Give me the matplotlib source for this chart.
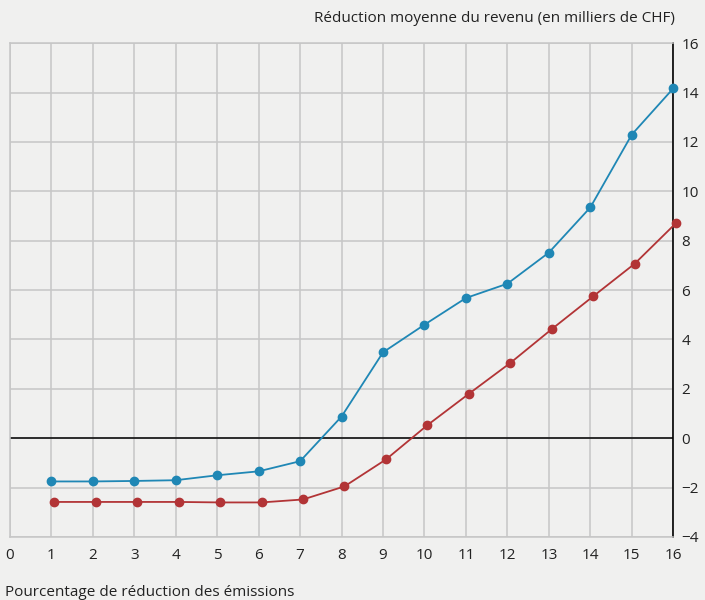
import numpy as np
import matplotlib.pyplot as plt

plt.rcParams['font.family'] = ['Open Sans', 'DejaVu Sans']

# Données
reduction = list(range(1, 17))
serie_bleue = [-1.75, -1.75, -1.73, -1.70, -1.50, -1.34, -0.93, 0.88,
               3.48, 4.60, 5.68, 6.26, 7.52, 9.35, 12.30, 14.17]
serie_rouge = [-2.58, -2.58, -2.58, -2.58, -2.60, -2.60, -2.48, -1.95,
               -0.86, 0.53, 1.80, 3.05, 4.42, 5.75, 7.07, 8.72]

bg = '#f0f0ef'
bleu = '#1f87b5'
rouge = '#b23436'

fig = plt.figure(figsize=(7.05, 6), dpi=100, facecolor=bg)
ax = fig.add_axes([0.014, 0.105, 0.941, 0.823], facecolor=bg)

ax.plot(reduction, serie_bleue, color=bleu, lw=1.3, marker='o', ms=6,
        zorder=3, clip_on=False)
x_rouge = np.array(reduction) + 0.07
ax.plot(x_rouge, serie_rouge, color=rouge, lw=1.3, marker='o', ms=6,
        zorder=3, clip_on=False)

ax.axhline(0, color='black', lw=1.1, zorder=2)

ax.set_xlim(0, 16)
ax.set_ylim(-4, 16)
ax.set_xticks(range(0, 17))
ax.set_yticks(range(-4, 17, 2))
ax.set_yticklabels([str(v).replace('-', '\u2212') for v in range(-4, 17, 2)])
ax.yaxis.tick_right()
ax.tick_params(axis='both', length=0, labelsize=11, colors='#222222')
ax.tick_params(axis='x', pad=8)
ax.tick_params(axis='y', pad=6)

ax.grid(True, color='#c6c6c6', lw=1.1, zorder=0)
for s in ['left', 'top', 'bottom']:
    ax.spines[s].set_color('#c6c6c6')
    ax.spines[s].set_linewidth(1.1)
ax.spines['right'].set_color('black')
ax.spines['right'].set_linewidth(1.2)

fig.text(0.957, 0.97, 'Réduction moyenne du revenu (en milliers de CHF)',
         ha='right', va='center', fontsize=11, color='#222222')
fig.text(0.007, 0.013, 'Pourcentage de réduction des émissions',
         ha='left', va='center', fontsize=11, color='#222222')

fig.savefig('out.png', dpi=100, facecolor=bg)
